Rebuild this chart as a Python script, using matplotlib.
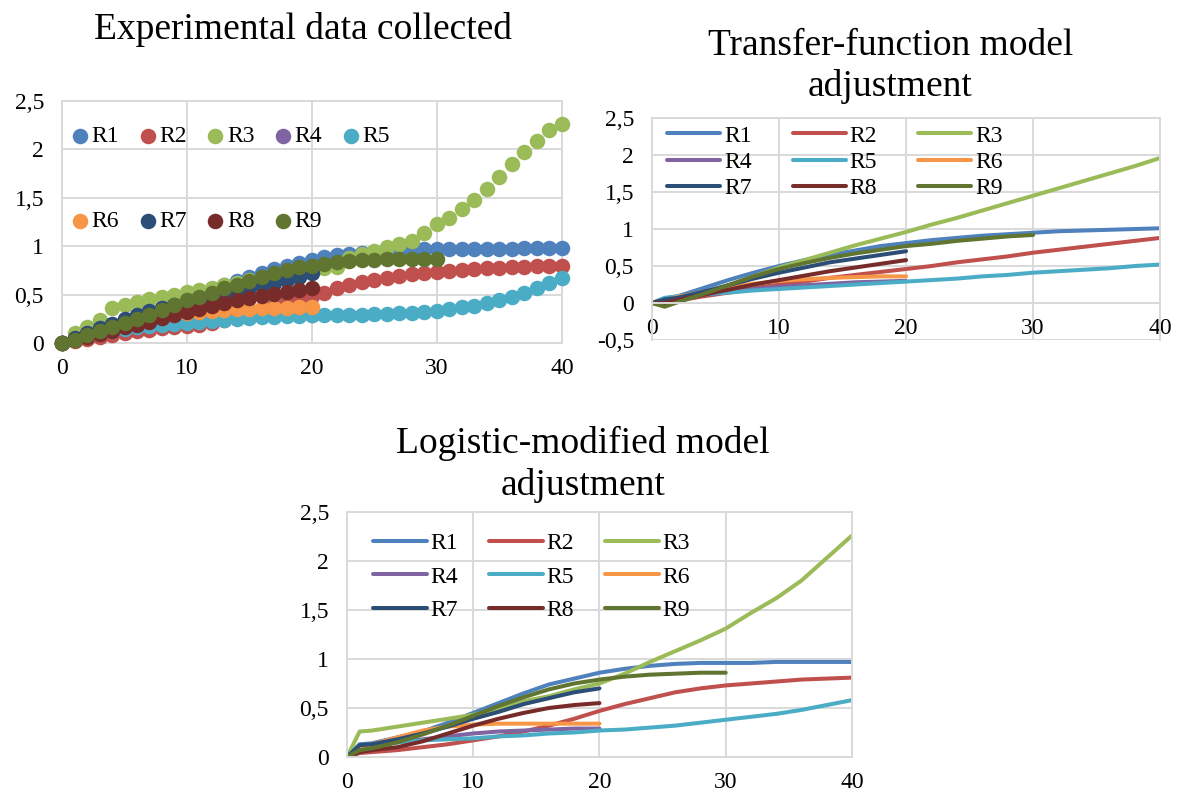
import matplotlib.pyplot as plt
from matplotlib.ticker import FuncFormatter

plt.rcParams['font.family'] = ['Liberation Serif', 'DejaVu Serif']

# series names and Excel-like colours
names = ['R1', 'R2', 'R3', 'R4', 'R5', 'R6', 'R7', 'R8', 'R9']
colors = ['#4F81BD', '#C0504D', '#9BBB59', '#8064A2', '#4BACC6',
          '#F79646', '#2C4D75', '#772C2A', '#5F7530']

# experimental data, one point per day
days = list(range(41))
exp_r1 = [0, 0.04, 0.08, 0.13, 0.18, 0.22, 0.27, 0.31, 0.36, 0.40,
          0.45, 0.50, 0.55, 0.60, 0.64, 0.68, 0.72, 0.76, 0.80, 0.83,
          0.86, 0.89, 0.91, 0.92, 0.93, 0.94, 0.95, 0.96, 0.96, 0.97,
          0.97, 0.97, 0.97, 0.97, 0.97, 0.97, 0.97, 0.98, 0.98, 0.98, 0.98]
exp_r2 = [0, 0.02, 0.04, 0.06, 0.08, 0.10, 0.12, 0.13, 0.15, 0.16,
          0.18, 0.19, 0.21, 0.24, 0.27, 0.30, 0.34, 0.38, 0.42, 0.45,
          0.49, 0.52, 0.57, 0.60, 0.63, 0.65, 0.67, 0.69, 0.71, 0.72,
          0.73, 0.74, 0.75, 0.76, 0.77, 0.77, 0.78, 0.78, 0.79, 0.79, 0.80]
exp_r3 = [0, 0.10, 0.17, 0.24, 0.36, 0.39, 0.42, 0.45, 0.47, 0.50,
          0.53, 0.55, 0.57, 0.60, 0.62, 0.65, 0.67, 0.69, 0.71, 0.73,
          0.75, 0.77, 0.78, 0.88, 0.92, 0.95, 0.99, 1.02, 1.05, 1.14,
          1.23, 1.29, 1.38, 1.48, 1.59, 1.71, 1.85, 1.97, 2.09, 2.20, 2.26]
exp_r4 = [0, 0.04, 0.08, 0.11, 0.14, 0.16, 0.18, 0.20, 0.21, 0.23,
          0.24, 0.25, 0.26, 0.27, 0.27, 0.28, 0.28, 0.29, 0.29, 0.29, 0.29]
exp_r5 = [0, 0.04, 0.07, 0.10, 0.12, 0.14, 0.16, 0.18, 0.19, 0.20,
          0.21, 0.22, 0.23, 0.24, 0.25, 0.26, 0.27, 0.27, 0.28, 0.28,
          0.29, 0.29, 0.29, 0.29, 0.29, 0.30, 0.30, 0.31, 0.31, 0.32,
          0.33, 0.35, 0.37, 0.38, 0.41, 0.44, 0.48, 0.52, 0.57, 0.62, 0.67]
exp_r6 = [0, 0.05, 0.10, 0.14, 0.18, 0.21, 0.24, 0.26, 0.28, 0.30,
          0.31, 0.32, 0.33, 0.34, 0.35, 0.35, 0.36, 0.36, 0.36, 0.37, 0.37]
exp_r7 = [0, 0.05, 0.10, 0.15, 0.20, 0.25, 0.29, 0.33, 0.36, 0.39,
          0.42, 0.45, 0.48, 0.51, 0.54, 0.57, 0.60, 0.62, 0.65, 0.68, 0.72]
exp_r8 = [0, 0.03, 0.06, 0.09, 0.12, 0.16, 0.19, 0.22, 0.26, 0.29,
          0.32, 0.35, 0.38, 0.41, 0.44, 0.46, 0.49, 0.51, 0.53, 0.55, 0.57]
exp_r9 = [0, 0.03, 0.08, 0.12, 0.17, 0.21, 0.25, 0.29, 0.34, 0.39,
          0.44, 0.48, 0.52, 0.57, 0.60, 0.64, 0.68, 0.72, 0.75, 0.78,
          0.80, 0.82, 0.84, 0.85, 0.86, 0.86, 0.87, 0.87, 0.87, 0.87, 0.87]

# model curves, read at these days
mdays = [0, 1, 2, 4, 6, 8, 10, 12, 14, 16, 18, 20, 22, 24, 26, 28, 30, 32, 34, 36, 38, 40]

tf_r1 = [0, 0.06, 0.09, 0.20, 0.31, 0.41, 0.50, 0.58, 0.65, 0.71, 0.77, 0.81,
         0.85, 0.88, 0.91, 0.93, 0.95, 0.97, 0.98, 0.99, 1.00, 1.01]
tf_r2 = [0, 0.00, 0.03, 0.09, 0.14, 0.20, 0.25, 0.29, 0.34, 0.38, 0.42, 0.46,
         0.50, 0.55, 0.59, 0.63, 0.68, 0.72, 0.76, 0.80, 0.84, 0.88]
tf_r3 = [0, -0.03, 0.03, 0.13, 0.24, 0.36, 0.48, 0.58, 0.68, 0.78, 0.87, 0.96,
         1.06, 1.15, 1.25, 1.35, 1.45, 1.55, 1.65, 1.75, 1.85, 1.96]
tf_r4 = [0, 0.03, 0.06, 0.11, 0.15, 0.19, 0.22, 0.24, 0.26, 0.28, 0.29, 0.30]
tf_r5 = [0, 0.07, 0.09, 0.12, 0.14, 0.17, 0.19, 0.21, 0.23, 0.25, 0.27, 0.29,
         0.31, 0.33, 0.36, 0.38, 0.41, 0.43, 0.45, 0.47, 0.50, 0.52]
tf_r6 = [0, 0.04, 0.08, 0.15, 0.21, 0.26, 0.30, 0.32, 0.34, 0.35, 0.36, 0.36]
tf_r7 = [0, 0.05, 0.07, 0.15, 0.24, 0.33, 0.41, 0.48, 0.55, 0.60, 0.65, 0.70]
tf_r8 = [0, 0.00, 0.04, 0.11, 0.18, 0.25, 0.31, 0.37, 0.43, 0.48, 0.53, 0.58]
tf_r9 = [0, -0.05, 0.01, 0.12, 0.24, 0.36, 0.46, 0.54, 0.61, 0.67, 0.72, 0.77,
         0.80, 0.84, 0.87, 0.90, 0.92]

lm_r1 = [0, 0.13, 0.14, 0.20, 0.26, 0.35, 0.45, 0.55, 0.65, 0.74, 0.80, 0.86,
         0.90, 0.93, 0.95, 0.96, 0.96, 0.96, 0.97, 0.97, 0.97, 0.97]
lm_r2 = [0, 0.04, 0.05, 0.07, 0.10, 0.13, 0.17, 0.21, 0.26, 0.32, 0.39, 0.47,
         0.54, 0.60, 0.66, 0.70, 0.73, 0.75, 0.77, 0.79, 0.80, 0.81]
lm_r3 = [0, 0.26, 0.27, 0.31, 0.35, 0.39, 0.43, 0.49, 0.57, 0.62, 0.69, 0.75,
         0.85, 0.97, 1.08, 1.19, 1.31, 1.47, 1.62, 1.80, 2.03, 2.26]
lm_r4 = [0, 0.08, 0.11, 0.15, 0.18, 0.21, 0.24, 0.26, 0.27, 0.28, 0.29, 0.29]
lm_r5 = [0, 0.12, 0.13, 0.15, 0.17, 0.18, 0.19, 0.21, 0.22, 0.24, 0.25, 0.27,
         0.28, 0.30, 0.32, 0.35, 0.38, 0.41, 0.44, 0.48, 0.53, 0.58]
lm_r6 = [0, 0.10, 0.13, 0.20, 0.27, 0.31, 0.33, 0.34, 0.34, 0.34, 0.34, 0.34]
lm_r7 = [0, 0.12, 0.13, 0.18, 0.24, 0.31, 0.39, 0.46, 0.54, 0.60, 0.66, 0.70]
lm_r8 = [0, 0.05, 0.07, 0.10, 0.16, 0.24, 0.32, 0.39, 0.45, 0.50, 0.53, 0.55]
lm_r9 = [0, 0.07, 0.09, 0.15, 0.23, 0.32, 0.42, 0.52, 0.61, 0.69, 0.75, 0.79,
         0.82, 0.84, 0.85, 0.86, 0.86]

exp_series = [exp_r1, exp_r2, exp_r3, exp_r4, exp_r5, exp_r6, exp_r7, exp_r8, exp_r9]
tf_series = [tf_r1, tf_r2, tf_r3, tf_r4, tf_r5, tf_r6, tf_r7, tf_r8, tf_r9]
lm_series = [lm_r1, lm_r2, lm_r3, lm_r4, lm_r5, lm_r6, lm_r7, lm_r8, lm_r9]

xticks = [0, 10, 20, 30, 40]
yticks = [0, 0.5, 1, 1.5, 2, 2.5]
yticks_tf = [-0.5, 0, 0.5, 1, 1.5, 2, 2.5]

titles = ['Experimental data collected',
          'Transfer-function model\nadjustment',
          'Logistic-modified model\nadjustment']

grid_col = '#D9D9D9'
comma = FuncFormatter(lambda v, p: ('%g' % v).replace('.', ','))
FS = 17


def style(ax, yt):
    ax.set_xlim(0, 40)
    ax.set_ylim(yt[0], yt[-1])
    ax.set_xticks(xticks)
    ax.set_yticks(yt)
    ax.yaxis.set_major_formatter(comma)
    ax.grid(True, color=grid_col, linewidth=1.4)
    ax.set_axisbelow(True)
    for s in ax.spines.values():
        s.set_color(grid_col)
        s.set_linewidth(1.4)
    ax.tick_params(length=0, labelsize=FS)
    ax.tick_params(axis='y', pad=13)
    ax.tick_params(axis='x', pad=11)


def row_major(items, ncol):
    # reorder so matplotlib's column-wise legend fill reads row by row
    nrow = -(-len(items) // ncol)
    out = []
    for c in range(ncol):
        for r in range(nrow):
            i = r * ncol + c
            if i < len(items):
                out.append(items[i])
    return out


fig = plt.figure(figsize=(11.79, 7.98), dpi=100)

# experimental data
ax1 = fig.add_axes([0.0526, 0.5702, 0.424, 0.3033])
for name, col, ys in zip(names, colors, exp_series):
    ax1.scatter(days[:len(ys)], ys, s=125, color=col, label=name,
                linewidths=0, clip_on=False, zorder=3)
style(ax1, yticks)
h, l = ax1.get_legend_handles_labels()
ax1.legend(row_major(h, 5), row_major(l, 5), ncol=5, loc='upper left',
           bbox_to_anchor=(0.017, 0.897), frameon=False, fontsize=FS,
           handletextpad=0.1, columnspacing=0.8, labelspacing=2.68,
           borderpad=0, borderaxespad=0, handlelength=0.8, scatterpoints=1)
fig.text(0.257, 0.963, titles[0], fontsize=27, ha='center', va='center')

# transfer-function model
ax2 = fig.add_axes([0.553, 0.5739, 0.431, 0.2782])
for name, col, ys in zip(names, colors, tf_series):
    ax2.plot(mdays[:len(ys)], ys, color=col, lw=2.9, label=name,
             solid_capstyle='round')
style(ax2, yticks_tf)
ax2.spines['bottom'].set_position(('data', 0))
h, l = ax2.get_legend_handles_labels()
ax2.legend(row_major(h, 3), row_major(l, 3), ncol=3, loc='upper left',
           bbox_to_anchor=(0.03, 0.968), frameon=False, fontsize=FS,
           handlelength=2.25, handletextpad=0.15, columnspacing=1.75,
           labelspacing=0.2, borderpad=0, borderaxespad=0)
fig.text(0.755, 0.917, titles[1], fontsize=27, ha='center', va='center',
         linespacing=1.25)

# logistic-modified model
ax3 = fig.add_axes([0.2943, 0.0514, 0.4283, 0.307])
for name, col, ys in zip(names, colors, lm_series):
    ax3.plot(mdays[:len(ys)], ys, color=col, lw=2.9, label=name,
             solid_capstyle='round')
style(ax3, yticks)
h, l = ax3.get_legend_handles_labels()
ax3.legend(row_major(h, 3), row_major(l, 3), ncol=3, loc='upper left',
           bbox_to_anchor=(0.051, 0.917), frameon=False, fontsize=FS,
           handlelength=2.3, handletextpad=0.15, columnspacing=1.3,
           labelspacing=0.52, borderpad=0, borderaxespad=0)
fig.text(0.4945, 0.418, titles[2], fontsize=27, ha='center', va='center',
         linespacing=1.25)

fig.savefig('out.png', dpi=100)
